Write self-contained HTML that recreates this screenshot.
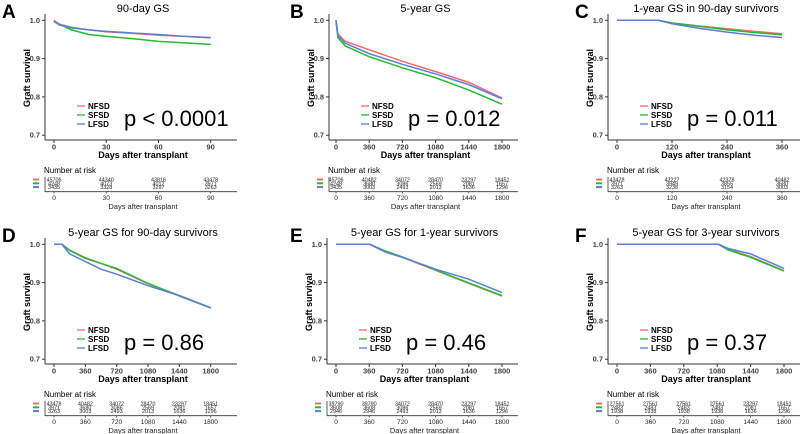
<!DOCTYPE html>
<html><head><meta charset="utf-8"><style>
body{margin:0;background:#fff;}
svg{display:block;font-family:"Liberation Sans",sans-serif;}
</style></head><body>
<svg id="fig" width="800" height="434" viewBox="0 0 800 434" xmlns="http://www.w3.org/2000/svg"></svg>
<script>
// ---- data ----
const seriesNames = ["NFSD","SFSD","LFSD"];
const panelLetters = ["A","B","C","D","E","F"];
const panelTitles = ["90-day GS","5-year GS","1-year GS in 90-day survivors","5-year GS for 90-day survivors","5-year GS for 1-year survivors","5-year GS for 3-year survivors"];
const pValues = ["p < 0.0001","p = 0.012","p = 0.011","p = 0.86","p = 0.46","p = 0.37"];
const xMaxes = [90,1800,360,1800,1800,1800];
const xTicksA = [0,30,60,90];
const xTicks5y = [0,360,720,1080,1440,1800];
const xTicksC = [0,120,240,360];
const yTicks = [0.7,0.8,0.9,1.0];
const yTickLabels = ["0.7","0.8","0.9","1.0"];
// survival curves: [time, survival]
const curveA_N = [[0,1.0],[3,0.99],[10,0.982],[20,0.975],[30,0.970],[45,0.966],[60,0.961],[75,0.958],[90,0.955]];
const curveA_S = [[0,0.996],[3,0.99],[10,0.975],[20,0.963],[30,0.958],[45,0.952],[60,0.945],[75,0.941],[90,0.937]];
const curveA_L = [[0,0.998],[3,0.988],[10,0.98],[20,0.975],[30,0.971],[45,0.967],[60,0.963],[75,0.958],[90,0.954]];
const curveB_N = [[0,1.0],[20,0.965],[100,0.945],[360,0.923],[720,0.893],[1080,0.866],[1440,0.838],[1800,0.797]];
const curveB_S = [[0,1.0],[20,0.955],[100,0.933],[360,0.905],[720,0.876],[1080,0.850],[1440,0.818],[1800,0.781]];
const curveB_L = [[0,1.0],[20,0.96],[100,0.94],[360,0.913],[720,0.885],[1080,0.860],[1440,0.832],[1800,0.795]];
const curveC_N = [[0,1.0],[90,1.0],[120,0.993],[180,0.985],[240,0.978],[300,0.971],[360,0.965]];
const curveC_S = [[0,1.0],[90,1.0],[120,0.993],[180,0.984],[240,0.975],[300,0.968],[360,0.962]];
const curveC_L = [[0,1.0],[90,1.0],[120,0.991],[180,0.979],[240,0.969],[300,0.961],[360,0.955]];
const curveD_N = [[0,1.0],[90,1.0],[180,0.985],[360,0.965],[720,0.935],[1080,0.897],[1440,0.866],[1800,0.834]];
const curveD_S = [[0,1.0],[90,1.0],[180,0.984],[360,0.963],[720,0.937],[1080,0.898],[1440,0.865],[1800,0.834]];
const curveD_L = [[0,1.0],[90,1.0],[180,0.975],[360,0.955],[540,0.935],[720,0.922],[1080,0.892],[1440,0.866],[1800,0.834]];
const curveE_N = [[0,1.0],[365,1.0],[540,0.980],[720,0.966],[1080,0.932],[1440,0.898],[1800,0.865]];
const curveE_S = [[0,1.0],[365,1.0],[540,0.982],[720,0.967],[1080,0.933],[1440,0.899],[1800,0.866]];
const curveE_L = [[0,1.0],[365,1.0],[540,0.979],[720,0.966],[1080,0.935],[1440,0.909],[1800,0.874]];
const curveF_N = [[0,1.0],[1095,1.0],[1200,0.987],[1440,0.968],[1800,0.931]];
const curveF_S = [[0,1.0],[1095,1.0],[1200,0.985],[1440,0.966],[1800,0.930]];
const curveF_L = [[0,1.0],[1095,1.0],[1200,0.989],[1440,0.975],[1800,0.937]];
const riskA = [[45706,44340,43816,43478],[4248,4073,4012,3971],[3435,3328,3297,3263]];
const riskB = [[45706,40482,34072,28470,23297,18451],[4248,3680,3086,2569,2081,1657],[3435,3003,2493,2013,1636,1296]];
const riskC = [[43478,43227,42378,40482],[3971,3949,3855,3680],[3263,3238,3154,3003]];
const riskD = [[43478,40482,34072,28470,23297,18451],[3971,3680,3086,2569,2081,1657],[3263,3003,2493,2013,1636,1296]];
const riskE = [[39790,39790,34072,28470,23297,18451],[3608,3608,3086,2569,2081,1657],[2946,2946,2493,2013,1636,1296]];
const riskF = [[27561,27561,27561,27561,23297,18451],[2483,2483,2483,2483,2081,1657],[1938,1938,1938,1938,1636,1296]];

const colors = ["#f46a6a","#22bb33","#5a7fd8"];
const curves = [[curveA_N,curveA_S,curveA_L],[curveB_N,curveB_S,curveB_L],[curveC_N,curveC_S,curveC_L],[curveD_N,curveD_S,curveD_L],[curveE_N,curveE_S,curveE_L],[curveF_N,curveF_S,curveF_L]];
const risks = [riskA,riskB,riskC,riskD,riskE,riskF];
const ticksets = [xTicksA,xTicks5y,xTicksC,xTicks5y,xTicks5y,xTicks5y];
const layout = [
 {ax:45,x0:54,x1:210.7,end:237,oy:0,lx:2},
 {ax:329,x0:336,x1:502,end:518,oy:0,lx:290},
 {ax:608,x0:617,x1:782,end:800,oy:0,lx:575},
 {ax:45,x0:54,x1:210.7,end:237,oy:224,lx:2},
 {ax:327,x0:336,x1:502,end:518,oy:224,lx:290},
 {ax:608,x0:617,x1:784,end:800,oy:224,lx:575}
];
const svg = document.getElementById('fig');
const NS = "http://www.w3.org/2000/svg";
function mk(tag, attrs, parent, text){
  const e = document.createElementNS(NS, tag);
  for (const k in attrs) e.setAttribute(k, attrs[k]);
  if (text !== undefined) e.textContent = text;
  parent.appendChild(e);
  return e;
}
panelLetters.forEach((L, i) => {
  const c = layout[i];
  const g = mk('g', {}, svg);
  
  
  const oy = c.oy;
  const xs = t => c.x0 + (c.x1 - c.x0) * t / xMaxes[i];
  const ys = v => oy + 20.3 + (1.0 - v) * 383;
  const letter = mk('text', {x:c.lx, y:oy+18, 'font-size':19, 'font-weight':'bold', fill:'#000'}, g, L);
  
  
  const cx = (c.ax + c.end) / 2 + 2;
  const title = mk('text', {x:cx, y:oy+12, 'font-size':11, 'text-anchor':'middle', fill:'#000'}, g, panelTitles[i]);
  
  
  const yax = mk('line', {x1:c.ax, y1:oy+14, x2:c.ax, y2:oy+140, stroke:'#333', 'stroke-width':1}, g);
  
  
  const xax = mk('line', {x1:c.ax, y1:oy+140, x2:c.end, y2:oy+140, stroke:'#333', 'stroke-width':1}, g);
  
  
  yTicks.forEach((v, k) => {
    mk('line', {x1:c.ax-3, y1:ys(v), x2:c.ax, y2:ys(v), stroke:'#333'}, g);
    const t = mk('text', {x:c.ax-5, y:ys(v)+2.5, 'font-size':7.5, 'font-weight':'bold', 'text-anchor':'end', fill:'#444'}, g, yTickLabels[k]);
    
    
  });
  ticksets[i].forEach(tv => {
    mk('line', {x1:xs(tv), y1:oy+140, x2:xs(tv), y2:oy+143, stroke:'#333'}, g);
    const t = mk('text', {x:xs(tv), y:oy+149.5, 'font-size':7.5, 'font-weight':'bold', 'text-anchor':'middle', fill:'#444'}, g, String(tv));
    
    
  });
  const xt = mk('text', {x:(c.ax+ (i%3==2?800:c.end))/2 + 2, y:oy+158, 'font-size':9, 'font-weight':'bold', 'text-anchor':'middle', fill:'#000'}, g, 'Days after transplant');
  
  
  const yt = mk('text', {x:0, y:0, 'font-size':9, 'font-weight':'bold', 'text-anchor':'middle', fill:'#000', transform:`translate(${c.ax-15},${oy+78}) rotate(-90)`}, g, 'Graft survival');
  
  
  curves[i].forEach((cv, s) => {
    let d = '';
    cv.forEach((p, k) => { d += (k ? 'L' : 'M') + xs(p[0]).toFixed(2) + ',' + ys(p[1]).toFixed(2); });
    const path = mk('path', {d:d, fill:'none', stroke:colors[s], 'stroke-width':1.5}, g);
    
    
  });
  seriesNames.forEach((n, s) => {
    const ly = oy + 106 + s * 9;
    const lg = mk('g', {}, g);
    
    
    mk('line', {x1:c.ax+32, y1:ly, x2:c.ax+40, y2:ly, stroke:colors[s], 'stroke-width':1.3}, lg);
    mk('text', {x:c.ax+43, y:ly+3, 'font-size':8, 'font-weight':'bold', fill:'#000'}, lg, n);
  });
  const pv = mk('text', {x:c.ax+79, y:oy+126, 'font-size':22, fill:'#000'}, g, pValues[i]);
  
  
  const nr = mk('text', {x:c.ax-1, y:oy+173, 'font-size':8, fill:'#000'}, g, 'Number at risk');
  
  
  mk('line', {x1:c.ax, y1:oy+177, x2:c.ax, y2:oy+191.7, stroke:'#333', 'stroke-width':0.8}, g);
  mk('line', {x1:c.ax, y1:oy+191.7, x2:c.end, y2:oy+191.7, stroke:'#333', 'stroke-width':0.8}, g);
  risks[i].forEach((row, s) => {
    const ry = oy + 179.5 + s * 3.8;
    const dash = mk('line', {x1:c.ax-12, y1:ry, x2:c.ax-6, y2:ry, stroke:colors[s], 'stroke-width':2}, g);
    
    
    row.forEach((v, k) => {
      const t = mk('text', {x:xs(ticksets[i][k]), y:ry+2, 'font-size':5.4, 'text-anchor':'middle', fill:'#222'}, g, String(v));
      
      
    });
  });
  ticksets[i].forEach(tv => {
    mk('line', {x1:xs(tv), y1:oy+191.7, x2:xs(tv), y2:oy+193.5, stroke:'#333', 'stroke-width':0.8}, g);
    const t = mk('text', {x:xs(tv), y:oy+200, 'font-size':6.5, 'text-anchor':'middle', fill:'#222'}, g, String(tv));
    
    
  });
  const rt = mk('text', {x:(c.ax+(i%3==2?800:c.end))/2 + 2, y:oy+209, 'font-size':7.5, 'text-anchor':'middle', fill:'#222'}, g, 'Days after transplant');
  
  
});
</script>
</body></html>
